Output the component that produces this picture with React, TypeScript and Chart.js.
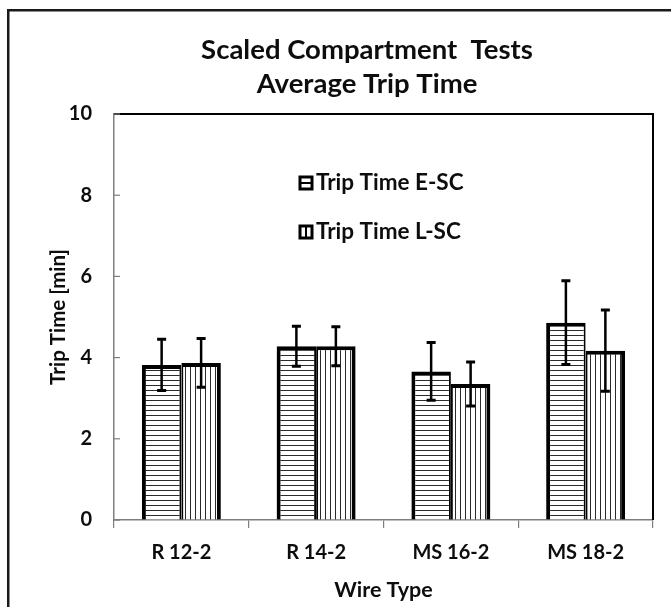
import React, { useEffect, useRef } from "react";
import { Chart, registerables } from "chart.js";

Chart.register(...registerables);

const categories = ["R 12-2", "R 14-2", "MS 16-2", "MS 18-2"];
const seriesNames = ["Trip Time E-SC", "Trip Time L-SC"];
const tripTimeESC = [3.82, 4.28, 3.66, 4.86];
const tripTimeLSC = [3.87, 4.28, 3.35, 4.17];
const errorESC = [0.63, 0.49, 0.71, 1.03];
const errorLSC = [0.6, 0.48, 0.54, 1.0];
const yTicks = [0, 2, 4, 6, 8, 10];
const titleLines = ["Scaled Compartment  Tests", "Average Trip Time"];
const xTitle = "Wire Type";
const yTitle = "Trip Time [min]";

const FONT = "Lato";
const TEXT = "#0d0d0d";
const AXIS = "#7f7f7f";

function makePattern(dir: "h" | "v"): CanvasPattern | string {
  const c = document.createElement("canvas");
  c.width = 5;
  c.height = 5;
  const g = c.getContext("2d");
  if (!g) return "#fff";
  g.fillStyle = "#ffffff";
  g.fillRect(0, 0, 5, 5);
  g.fillStyle = "#2a2a2a";
  if (dir === "h") g.fillRect(0, 0, 5, 1);
  else g.fillRect(0, 0, 1, 5);
  const p = g.createPattern(c, "repeat");
  return p || "#fff";
}

const decorPlugin = {
  id: "decor",
  afterDatasetsDraw(chart: any) {
    const { ctx, scales } = chart;
    const y = scales.y;
    const errs = [errorESC, errorLSC];
    chart.data.datasets.forEach((ds: any, di: number) => {
      const meta = chart.getDatasetMeta(di);
      meta.data.forEach((bar: any, i: number) => {
        const v = ds.data[i] as number;
        const e = errs[di][i];
        const x = bar.x;
        const yt = y.getPixelForValue(v + e);
        const yb = y.getPixelForValue(v - e);
        ctx.save();
        ctx.strokeStyle = "#000";
        ctx.lineWidth = 2.5;
        ctx.beginPath();
        ctx.moveTo(x, yt);
        ctx.lineTo(x, yb);
        ctx.stroke();
        ctx.lineWidth = 3;
        ctx.beginPath();
        ctx.moveTo(x - 4.5, yt);
        ctx.lineTo(x + 4.5, yt);
        ctx.moveTo(x - 4.5, yb);
        ctx.lineTo(x + 4.5, yb);
        ctx.stroke();
        ctx.restore();
      });
    });
  },
  afterDraw(chart: any) {
    const { ctx, chartArea, scales } = chart;
    const { left, right, top, bottom } = chartArea;
    ctx.save();
    // plot frame top & right
    ctx.strokeStyle = "#000";
    ctx.lineWidth = 2;
    ctx.beginPath();
    ctx.moveTo(left, top);
    ctx.lineTo(right, top);
    ctx.lineTo(right, bottom);
    ctx.stroke();
    // y tick marks (inward)
    ctx.strokeStyle = AXIS;
    ctx.lineWidth = 1.2;
    yTicks.forEach((t) => {
      const py = scales.y.getPixelForValue(t);
      ctx.beginPath();
      ctx.moveTo(left, py);
      ctx.lineTo(left + 6, py);
      ctx.stroke();
    });
    // chart title
    ctx.fillStyle = TEXT;
    ctx.font = `bold 27.5px ${FONT}`;
    ctx.textAlign = "center";
    ctx.textBaseline = "middle";
    titleLines.forEach((line, i) => {
      ctx.fillText(line, 367, 50 + i * 34);
    });
    // y axis title
    ctx.save();
    ctx.translate(left - 56, (top + bottom) / 2);
    ctx.rotate(-Math.PI / 2);
    ctx.font = `bold 20.5px ${FONT}`;
    ctx.textAlign = "center";
    ctx.textBaseline = "middle";
    ctx.fillText(yTitle, 0, 0);
    ctx.restore();
    // legend
    const lx = left + 186;
    const ly = [top + 69, top + 118];
    ctx.font = `bold 22.5px ${FONT}`;
    ctx.textBaseline = "middle";
    ctx.textAlign = "left";
    seriesNames.forEach((name, i) => {
      const cy = ly[i];
      const s = 12;
      ctx.strokeStyle = "#000";
      ctx.lineWidth = 3;
      ctx.fillStyle = "#fff";
      ctx.fillRect(lx, cy - s / 2, s, s);
      ctx.strokeRect(lx, cy - s / 2, s, s);
      ctx.lineWidth = 2;
      ctx.beginPath();
      if (i === 0) {
        ctx.moveTo(lx, cy);
        ctx.lineTo(lx + s, cy);
      } else {
        ctx.moveTo(lx + s / 2, cy - s / 2);
        ctx.lineTo(lx + s / 2, cy + s / 2);
      }
      ctx.stroke();
      ctx.fillStyle = TEXT;
      ctx.fillText(name, lx + s + 4, cy);
    });
    // outer border (left and top visible)
    ctx.fillStyle = "#1a1a1a";
    ctx.fillRect(7, 9, chart.width, 2.5);
    ctx.fillRect(7, 9, 2.5, chart.height);
    ctx.restore();
  },
};

export default function App() {
  const ref = useRef<HTMLCanvasElement | null>(null);
  useEffect(() => {
    if (!ref.current) return;
    const chart = new Chart(ref.current, {
      type: "bar",
      data: {
        labels: categories,
        datasets: [
          {
            label: seriesNames[0],
            data: tripTimeESC,
            backgroundColor: makePattern("h") as any,
            borderColor: "#000",
            borderWidth: { top: 4, left: 4, right: 2, bottom: 0 },
            borderSkipped: false,
            categoryPercentage: 0.586,
            barPercentage: 1,
          },
          {
            label: seriesNames[1],
            data: tripTimeLSC,
            backgroundColor: makePattern("v") as any,
            borderColor: "#000",
            borderWidth: { top: 4, left: 2, right: 4, bottom: 0 },
            borderSkipped: false,
            categoryPercentage: 0.586,
            barPercentage: 1,
          },
        ],
      },
      options: {
        animation: false,
        responsive: true,
        maintainAspectRatio: false,
        layout: { padding: { left: 0, right: 18, top: 114, bottom: 0 } },
        plugins: {
          legend: { display: false },
          tooltip: { enabled: false },
          title: { display: false },
        },
        scales: {
          x: {
            grid: {
              display: true,
              offset: true,
              drawOnChartArea: false,
              drawTicks: true,
              tickLength: 8,
              color: AXIS,
              lineWidth: 1.2,
            },
            border: { display: true, color: AXIS, width: 1.5 },
            ticks: {
              color: TEXT,
              font: { family: FONT, size: 20, weight: "bold" },
              padding: 13,
              maxRotation: 0,
            },
            title: {
              display: true,
              text: xTitle,
              color: TEXT,
              font: { family: FONT, size: 21.5, weight: "bold" },
              padding: { top: 0, bottom: 4 },
            },
            afterFit: (s: any) => {
              s.height = 87;
            },
          },
          y: {
            min: 0,
            max: 10,
            afterBuildTicks: (s: any) => {
              s.ticks = yTicks.map((v) => ({ value: v }));
            },
            grid: { display: true, drawOnChartArea: false, drawTicks: false },
            border: { display: true, color: AXIS, width: 1.5 },
            ticks: {
              color: TEXT,
              font: { family: FONT, size: 20, weight: "bold" },
              padding: 22,
            },
            title: { display: false },
            afterFit: (s: any) => {
              s.width = 114;
            },
          },
        },
      },
      plugins: [decorPlugin],
    });
    return () => chart.destroy();
  }, []);
  return (
    <div style={{ position: "fixed", left: 0, top: 0, width: 671, height: 607, background: "#fff" }}>
      <canvas ref={ref} />
    </div>
  );
}
